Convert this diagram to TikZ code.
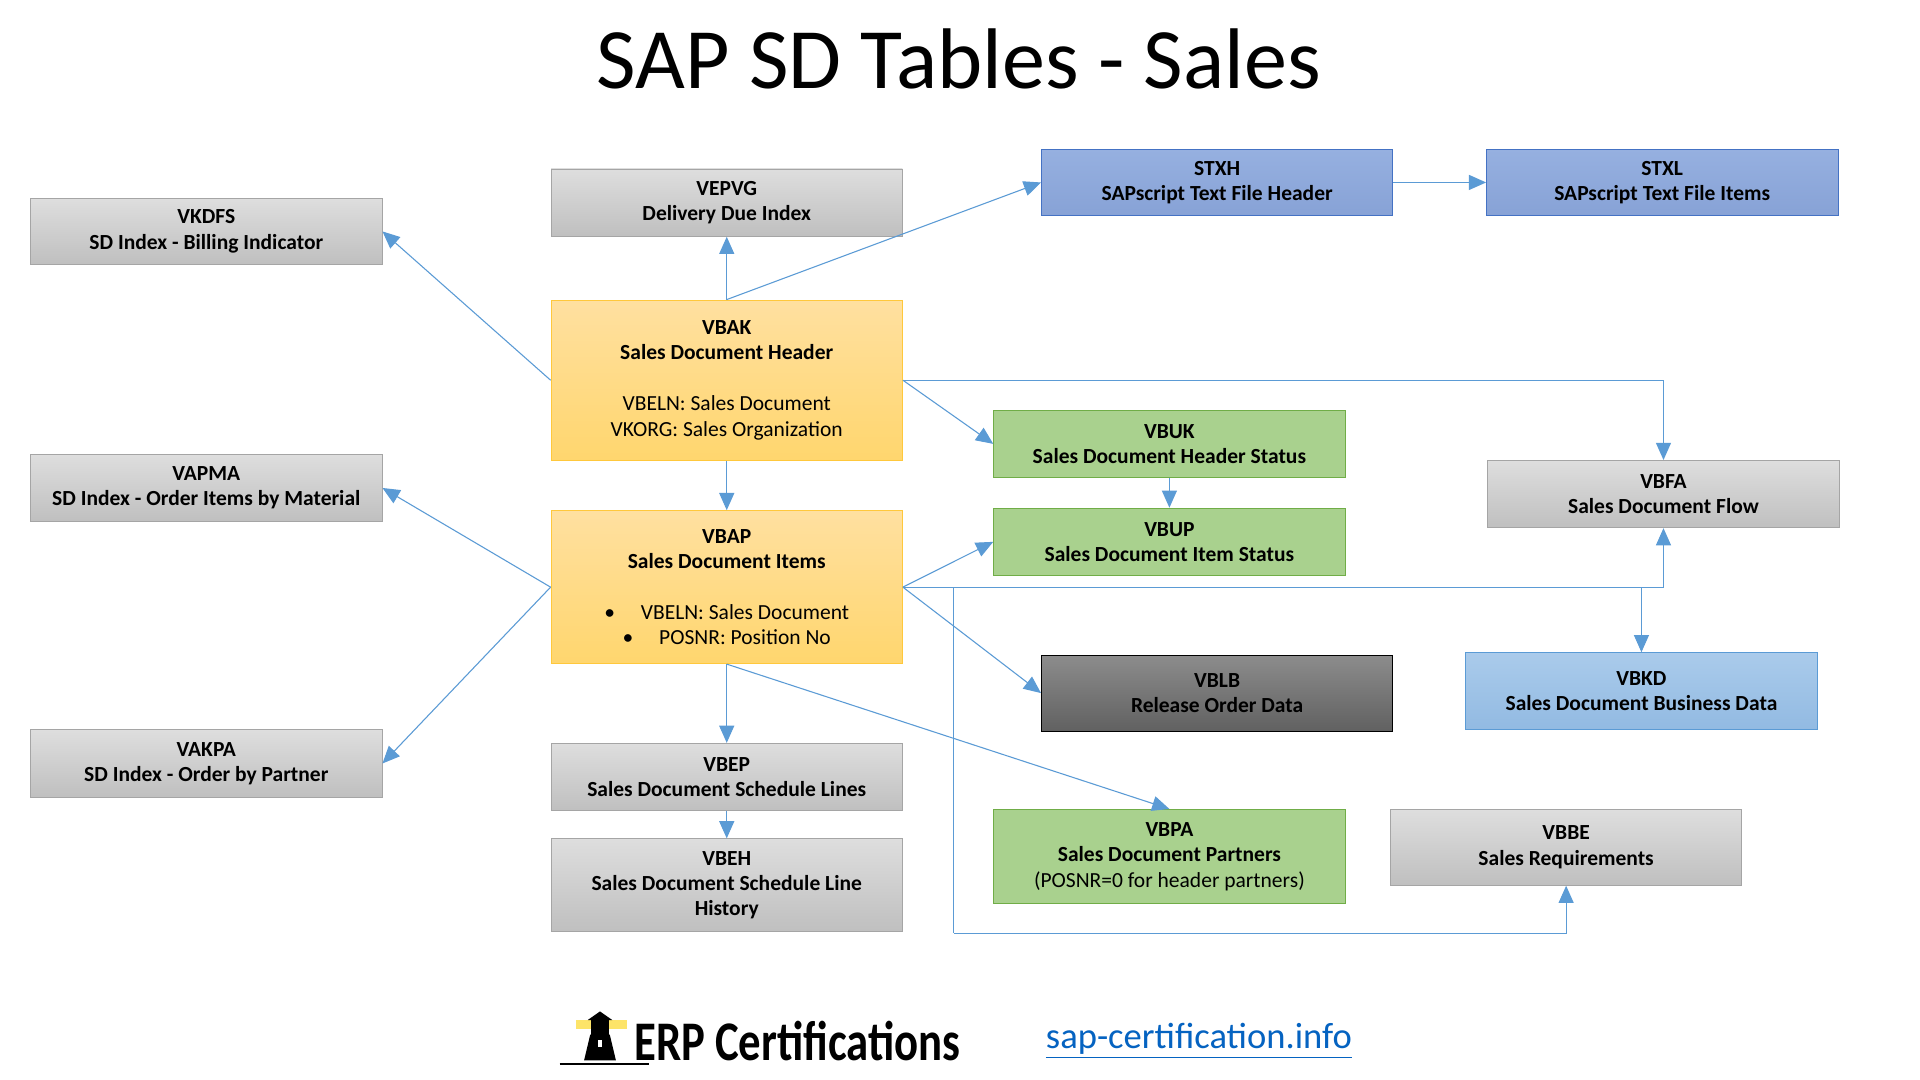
\documentclass[tikz,border=0pt]{standalone}
\usepackage{fontspec}
\setmainfont{Carlito}
\usetikzlibrary{arrows.meta}
\definecolor{lnk}{RGB}{91,155,213}
\definecolor{grB}{RGB}{165,165,165}
\definecolor{orB}{RGB}{255,200,60}
\definecolor{gnB}{RGB}{112,173,71}
\definecolor{blB}{RGB}{68,114,196}
\definecolor{lbB}{RGB}{91,155,213}
\definecolor{urlc}{RGB}{5,99,193}
\def\u{0.02cm}
\tikzset{
  tbl/.style={draw,align=center,minimum width=287*\u,inner sep=2pt,
    font=\fontsize{10}{11.8}\selectfont\bfseries},
  gbox/.style={tbl,draw=grB,top color=black!13,bottom color=black!25},
  obox/.style={tbl,draw=orB,top color={rgb,255:red,255;green,224;blue,160},bottom color={rgb,255:red,255;green,214;blue,110}},
  nbox/.style={tbl,draw=gnB,fill={rgb,255:red,169;green,209;blue,142}},
  bbox/.style={tbl,draw=blB,top color={rgb,255:red,150;green,176;blue,224},bottom color={rgb,255:red,135;green,162;blue,214}},
  lbox/.style={tbl,draw=lbB,top color={rgb,255:red,170;green,203;blue,235},bottom color={rgb,255:red,146;green,186;blue,226}},
  dbox/.style={tbl,draw=black,top color=black!45,bottom color=black!62},
  link/.style={draw=lnk,line width=0.5pt,-{Triangle[width=7pt,length=8pt]}},
  plain/.style={draw=lnk,line width=0.5pt}
}
\begin{document}
\begin{tikzpicture}[x=\u,y=-\u]
  \useasboundingbox[fill=white] (0,0) rectangle (1568,882);
  \node[font=\fontsize{40}{46}\selectfont] (title) at (783,48) {SAP SD Tables - Sales};
  % left index tables
  \node[gbox,minimum height=54*\u] (vkdfs) at (168.5,189) {VKDFS\\SD Index - Billing Indicator};
  \node[gbox,minimum height=55*\u] (vapma) at (168.5,398.5) {VAPMA\\SD Index - Order Items by Material};
  \node[gbox,minimum height=55*\u] (vakpa) at (168.5,623.5) {VAKPA\\SD Index - Order by Partner};
  % centre column
  \node[gbox,minimum height=55*\u] (vepvg) at (593.5,165.5) {VEPVG\\Delivery Due Index};
  \node[obox,minimum height=131*\u] (vbak) at (593.5,310.5) {VBAK\\Sales Document Header\\[0.42cm]
    \mdseries VBELN: Sales Document\\\mdseries VKORG: Sales Organization};
  \node[obox,minimum height=125*\u] (vbap) at (593.5,479.5) {VBAP\\Sales Document Items\\[0.42cm]
    \mdseries\textbullet\hspace{1.2em}VBELN: Sales Document\\
    \mdseries\textbullet\hspace{1.2em}POSNR: Position No\hspace{2.6em}};
  \node[gbox,minimum height=55*\u] (vbep) at (593.5,634.5) {VBEP\\Sales Document Schedule Lines};
  \node[gbox,minimum height=76*\u] (vbeh) at (593.5,723) {VBEH\\Sales Document Schedule Line\\History};
  % right side
  \node[bbox,minimum height=54*\u] (stxh) at (994,149) {STXH\\SAPscript Text File Header};
  \node[bbox,minimum height=54*\u] (stxl) at (1357.5,149) {STXL\\SAPscript Text File Items};
  \node[nbox,minimum height=55*\u] (vbuk) at (955,362.5) {VBUK\\Sales Document Header Status};
  \node[nbox,minimum height=55*\u] (vbup) at (955,442.5) {VBUP\\Sales Document Item Status};
  \node[gbox,minimum height=55*\u] (vbfa) at (1358.5,403.5) {VBFA\\Sales Document Flow};
  \node[dbox,minimum height=62*\u] (vblb) at (994,566) {VBLB\\Release Order Data};
  \node[lbox,minimum height=63*\u] (vbkd) at (1340.5,564.5) {VBKD\\Sales Document Business Data};
  \node[nbox,minimum height=77*\u] (vbpa) at (955,699.5) {VBPA\\Sales Document Partners\\\mdseries(POSNR=0 for header partners)};
  \node[gbox,minimum height=62*\u] (vbbe) at (1279,692) {VBBE\\Sales Requirements};
  % connectors from VBAK
  \draw[link] (vbak.north) -- (vepvg.south);
  \draw[link] (vbak.north) -- (stxh.west);
  \draw[link] (stxh.east) -- (stxl.west);
  \draw[link] (vbak.west) -- (vkdfs.east);
  \draw[link] (vbak.east) -- (vbuk.west);
  \draw[link] (vbak.east) -| (vbfa.north);
  \draw[link] (vbak.south) -- (vbap.north);
  \draw[link] (vbuk.south) -- (vbup.north);
  % connectors from VBAP
  \draw[link] (vbap.west) -- (vapma.east);
  \draw[link] (vbap.west) -- (vakpa.east);
  \draw[link] (vbap.east) -- (vbup.west);
  \draw[link] (vbap.east) -| (vbfa.south);
  \coordinate (kd) at (vbkd.north |- vbap.east);
  \draw[link] (kd) -- (vbkd.north);
  \draw[link] (vbap.east) -- (vblb.west);
  \coordinate (be) at (779,762);
  \draw[plain] (vbap.east) -| (be);
  \draw[link] (be) -| (vbbe.south);
  \draw[link] (vbap.south) -- (vbep.north);
  \draw[link] (vbap.south) -- (vbpa.north);
  \draw[link] (vbep.south) -- (vbeh.north);
  % footer
  \fill[yellow!70!orange,opacity=0.6] (470,833) rectangle (512,840);
  \fill[black] (482,845) -- (498,845) -- (503,866) -- (477,866) -- cycle;
  \fill[black] (480,833) -- (490,826) -- (500,833) -- cycle;
  \fill[black] (483,833) rectangle (497,845);
  \fill[white] (488,849) rectangle (492,855);
  \draw[black,line width=1.2pt] (457,869) -- (530,869);
  \node[font=\fontsize{26}{30}\selectfont\bfseries,anchor=west,xscale=0.8] (erp) at (513,850) {ERP Certifications};
  \node[font=\fontsize{17}{20}\selectfont,text=urlc,anchor=west] (url) at (848,850) {\underline{sap-certification.info}};
\end{tikzpicture}
\end{document}
